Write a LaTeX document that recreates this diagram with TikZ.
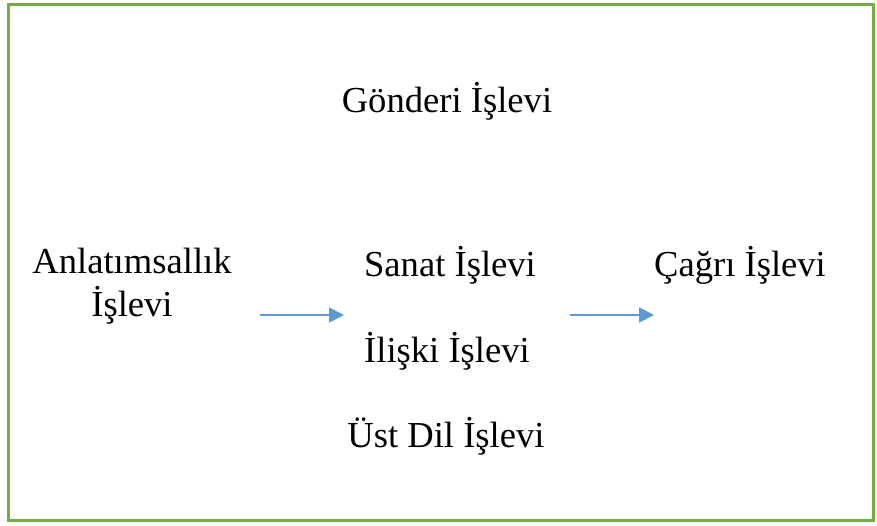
\documentclass[tikz,border=0pt]{standalone}
\usepackage{fontspec}
\setmainfont{Liberation Serif}
\usetikzlibrary{arrows.meta}

\definecolor{cerceve}{HTML}{70AD47}
\definecolor{ok}{HTML}{5B9BD5}

\tikzset{
    islev/.style={anchor=base, inner sep=0pt, align=center,
        font=\fontsize{36.6}{43}\selectfont},
    okcizgi/.style={-{Triangle[length=15pt, width=15pt]}, ok, line width=2pt}
}

\begin{document}
\begin{tikzpicture}[x=1pt, y=-1pt]

    \useasboundingbox (0,0) rectangle (877,525);

    % Çerçeve
    \draw[cerceve, line width=3pt] (8,4) rectangle (873,520.5);

    % Üstteki işlev
    \node[islev] (gonderi) at (447,112) {Gönderi İşlevi};

    % Sol sütun (iki satır, alt satırın taban çizgisi)
    \node[islev] (anlatim) at (132,316) {Anlatımsallık\\İşlevi};

    % Orta sütun
    \node[islev] (sanat) at (450,276) {Sanat İşlevi};
    \node[islev] (iliski) at (447,362) {İlişki İşlevi};
    \node[islev] (ustdil) at (446,447) {Üst Dil İşlevi};

    % Sağ sütun
    \node[islev] (cagri) at (740,276) {Çağrı İşlevi};

    % Okların uçları
    \coordinate (ok1bas) at (260,315);
    \coordinate (ok1son) at (344,315);
    \coordinate (ok2bas) at (570,315);
    \coordinate (ok2son) at (654,315);

    % Oklar
    \draw[okcizgi] (ok1bas) -- (ok1son);
    \draw[okcizgi] (ok2bas) -- (ok2son);

\end{tikzpicture}
\end{document}
